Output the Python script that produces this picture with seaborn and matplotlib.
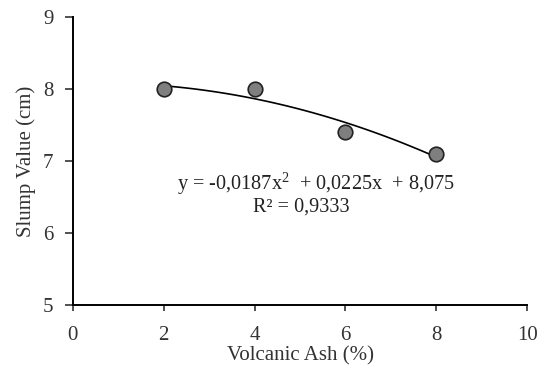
import numpy as np
import pandas as pd
import matplotlib
matplotlib.use("Agg")
import matplotlib.pyplot as plt
import seaborn as sns

# Data
ash_pct = [2, 4, 6, 8]
slump_cm = [8.0, 8.0, 7.4, 7.1]
x_ticks = [0, 2, 4, 6, 8, 10]
y_ticks = [5, 6, 7, 8, 9]
eq_text = "y = -0,0187x$^2$  + 0,0225x  + 8,075"
r2_text = "R² = 0,9333"

df = pd.DataFrame({"ash": ash_pct, "slump": slump_cm})

sns.set_style("ticks")
plt.rcParams["font.family"] = ["Liberation Serif", "DejaVu Serif"]
plt.rcParams["mathtext.fontset"] = "custom"
plt.rcParams["mathtext.rm"] = "Liberation Serif"

fig, ax = plt.subplots(figsize=(5.48, 3.69), dpi=100)
fig.subplots_adjust(left=0.133, right=0.962, top=0.954, bottom=0.173)

sns.regplot(data=df, x="ash", y="slump", order=2, ci=None, ax=ax,
            scatter_kws={"s": 110, "color": "#7f7f7f", "edgecolor": "#222222",
                         "linewidths": 1.2, "alpha": 1, "zorder": 3},
            line_kws={"color": "black", "lw": 1.2, "zorder": 2})

ax.set_xlim(0, 10)
ax.set_ylim(5, 9)
ax.set_xticks(x_ticks)
ax.set_yticks(y_ticks)
ax.tick_params(labelsize=15, colors="#333333", width=1.2)
ax.tick_params(axis="x", length=4, pad=11)
ax.tick_params(axis="y", length=6, pad=8)
for side in ["left", "bottom"]:
    ax.spines[side].set_linewidth(1.4)
    ax.spines[side].set_color("black")
sns.despine(ax=ax)

ax.set_xlabel("Volcanic Ash (%)", fontsize=15, color="#333333", labelpad=1)
ax.set_ylabel("Slump Value (cm)", fontsize=15, color="#333333", labelpad=5)

ax.text(5.35, 6.69, eq_text, ha="center", va="center", fontsize=14.6, color="#222222")
ax.text(5.03, 6.36, r2_text, ha="center", va="center", fontsize=14.6, color="#222222")

fig.savefig("out.png", dpi=100)
